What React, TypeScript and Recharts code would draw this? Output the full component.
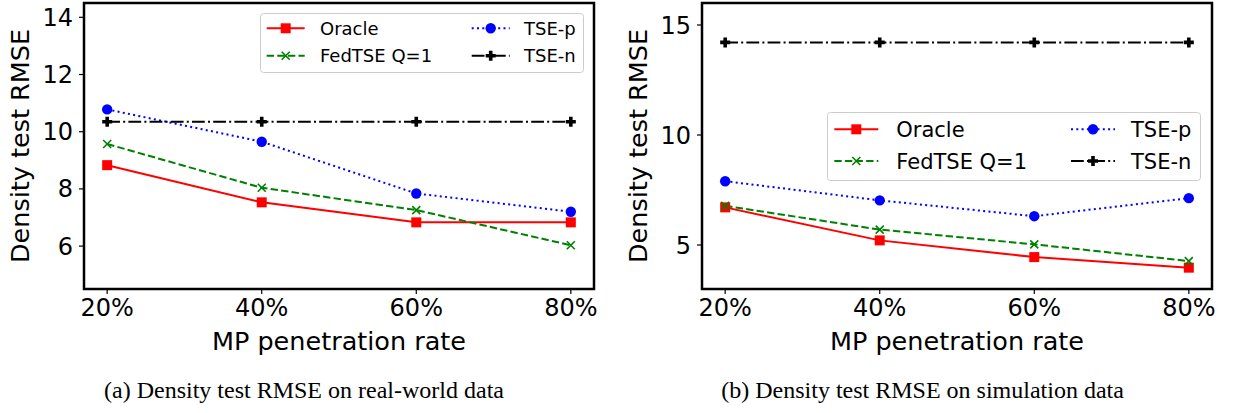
import React from 'react'
import { LineChart, Line, XAxis, YAxis, ReferenceArea, Legend } from 'recharts'

const categories = ['20%', '40%', '60%', '80%']

// (a) real-world data
const realOracle = [8.83, 7.53, 6.83, 6.83]
const realFedTSE = [9.57, 8.04, 7.26, 6.03]
const realTSEp = [10.78, 9.65, 7.84, 7.2]
const realTSEn = [10.35, 10.35, 10.35, 10.35]
const realTicks = [6, 8, 10, 12, 14]

// (b) simulation data
const simOracle = [6.71, 5.21, 4.45, 3.97]
const simFedTSE = [6.78, 5.7, 5.03, 4.27]
const simTSEp = [7.9, 7.03, 6.31, 7.13]
const simTSEn = [14.21, 14.21, 14.21, 14.21]
const simTicks = [5, 10, 15]

const FONT = '"DejaVu Sans", sans-serif'

type MarkerKind = 'square' | 'x' | 'circle' | 'plus'

const SERIES: { key: string; name: string; color: string; dash?: string; marker: MarkerKind }[] = [
  { key: 'oracle', name: 'Oracle', color: '#ff0000', marker: 'square' },
  { key: 'fed', name: 'FedTSE Q=1', color: '#008000', dash: '7.4 3.2', marker: 'x' },
  { key: 'tsep', name: 'TSE-p', color: '#0000ff', dash: '2 3.3', marker: 'circle' },
  { key: 'tsen', name: 'TSE-n', color: '#000000', dash: '12.8 3.2 2 3.2', marker: 'plus' },
]

function makeRows(oracle: number[], fed: number[], tsep: number[], tsen: number[]) {
  return categories.map((_, i) => ({ x: i, oracle: oracle[i], fed: fed[i], tsep: tsep[i], tsen: tsen[i] }))
}

function Marker({ kind, cx, cy, color }: { kind: MarkerKind; cx: number; cy: number; color: string }) {
  if (kind === 'square') return <rect x={cx - 5} y={cy - 5} width={10} height={10} fill={color} />
  if (kind === 'circle') return <circle cx={cx} cy={cy} r={5.2} fill={color} />
  if (kind === 'x')
    return (
      <path
        d={`M${cx - 4},${cy - 4}L${cx + 4},${cy + 4}M${cx - 4},${cy + 4}L${cx + 4},${cy - 4}`}
        stroke={color}
        strokeWidth={1.6}
        fill="none"
      />
    )
  const a = 5
  const t = 1.8
  return (
    <path
      d={`M${cx - t},${cy - a}H${cx + t}V${cy - t}H${cx + a}V${cy + t}H${cx + t}V${cy + a}H${cx - t}V${cy + t}H${cx - a}V${cy - t}H${cx - t}Z`}
      fill={color}
    />
  )
}

function YTitle({ viewBox }: any) {
  const x = viewBox.x + viewBox.width - 55
  const y = viewBox.y + viewBox.height / 2
  return (
    <text x={x} y={y} transform={`rotate(-90, ${x}, ${y})`} textAnchor="middle" fontSize={25.5} fontFamily={FONT} fill="#000">
      Density test RMSE
    </text>
  )
}

function XTitle({ viewBox }: any) {
  return (
    <text x={viewBox.x + viewBox.width / 2} y={viewBox.y + 61} textAnchor="middle" fontSize={25.5} fontFamily={FONT} fill="#000">
      MP penetration rate
    </text>
  )
}

interface LegendLayout {
  left: number
  top: number
  width: number
  height: number
  sampleX: number[]
  sampleW: number
  textX: number[]
  rowY: number[]
  fontSize: number
}

function LegendBox({ lay }: { lay: LegendLayout }) {
  return (
    <svg width={lay.width} height={lay.height} style={{ display: 'block' }}>
      <rect x={0.5} y={0.5} width={lay.width - 1} height={lay.height - 1} rx={3} fill="#ffffff" fillOpacity={0.8} stroke="#cccccc" strokeWidth={1} />
      {SERIES.map((s, i) => {
        const col = Math.floor(i / 2)
        const row = i % 2
        const x0 = lay.sampleX[col]
        const y = lay.rowY[row]
        return (
          <g key={s.key}>
            <line x1={x0} x2={x0 + lay.sampleW} y1={y} y2={y} stroke={s.color} strokeWidth={2} strokeDasharray={s.dash} />
            <Marker kind={s.marker} cx={x0 + lay.sampleW / 2} cy={y} color={s.color} />
            <text x={lay.textX[col]} y={y + lay.fontSize * 0.36} fontSize={lay.fontSize} fontFamily={FONT} fill="#000">
              {s.name}
            </text>
          </g>
        )
      })}
    </svg>
  )
}

interface PanelProps {
  left: number
  width: number
  yAxisWidth: number
  marginRight: number
  rows: any[]
  domain: [number, number]
  ticks: number[]
  legend: LegendLayout
}

function Panel({ left, width, yAxisWidth, marginRight, rows, domain, ticks, legend }: PanelProps) {
  return (
    <div style={{ position: 'absolute', left, top: 0, width, height: 413 }}>
      <LineChart width={width} height={413} data={rows} margin={{ top: 3, right: marginRight, bottom: 0, left: 0 }}>
        <XAxis
          type="number"
          dataKey="x"
          domain={[-0.15, 3.15]}
          allowDataOverflow
          ticks={[0, 1, 2, 3]}
          interval={0}
          tickFormatter={(v: number) => categories[v]}
          height={124}
          tickSize={5}
          tickMargin={5}
          axisLine={false}
          tickLine={{ stroke: '#000', strokeWidth: 1.2 }}
          tick={{ fill: '#000', fontSize: 24, fontFamily: FONT }}
          label={<XTitle />}
        />
        <YAxis
          type="number"
          domain={domain}
          allowDataOverflow
          ticks={ticks}
          interval={0}
          width={yAxisWidth}
          tickSize={5}
          tickMargin={6}
          axisLine={false}
          tickLine={{ stroke: '#000', strokeWidth: 1.2 }}
          tick={{ fill: '#000', fontSize: 24, fontFamily: FONT }}
          label={<YTitle />}
        />
        <ReferenceArea x1={-0.15} x2={3.15} y1={domain[0]} y2={domain[1]} fill="none" fillOpacity={0} stroke="#000" strokeWidth={2.5} ifOverflow="visible" />
        {SERIES.map((s) => (
          <Line
            key={s.key}
            type="linear"
            dataKey={s.key}
            name={s.name}
            stroke={s.color}
            strokeWidth={2}
            strokeDasharray={s.dash}
            isAnimationActive={false}
            dot={(p: any) => <Marker key={`${s.key}-${p.index}`} kind={s.marker} cx={p.cx} cy={p.cy} color={s.color} />}
            activeDot={false}
          />
        ))}
        <Legend
          layout="horizontal"
          verticalAlign="middle"
          align="center"
          content={() => <LegendBox lay={legend} />}
          wrapperStyle={{ left: legend.left, top: legend.top, width: legend.width, height: legend.height }}
        />
      </LineChart>
    </div>
  )
}

const captionStyle: React.CSSProperties = {
  position: 'absolute',
  top: 378,
  width: 500,
  textAlign: 'center',
  fontFamily: '"Liberation Serif", "Times New Roman", serif',
  fontSize: 24,
  lineHeight: '24px',
  color: '#000',
  whiteSpace: 'nowrap',
}

export default function App() {
  return (
    <div style={{ position: 'absolute', left: 0, top: 0, width: 1237, height: 413, background: '#fff' }}>
      <Panel
        left={0}
        width={610}
        yAxisWidth={84}
        marginRight={16}
        rows={makeRows(realOracle, realFedTSE, realTSEp, realTSEn)}
        domain={[4.5, 14.5]}
        ticks={realTicks}
        legend={{ left: 260, top: 13, width: 324, height: 60, sampleX: [6.7, 211.7], sampleW: 38, textX: [60, 264], rowY: [15.3, 42.7], fontSize: 18 }}
      />
      <Panel
        left={620}
        width={617}
        yAxisWidth={82}
        marginRight={25}
        rows={makeRows(simOracle, simFedTSE, simTSEp, simTSEn)}
        domain={[3, 16]}
        ticks={simTicks}
        legend={{ left: 207, top: 112, width: 374, height: 69, sampleX: [7.3, 244], sampleW: 44, textX: [69.3, 304], rowY: [17.3, 49], fontSize: 21 }}
      />
      <div style={{ ...captionStyle, left: 304 - 250 }}>(a) Density test RMSE on real-world data</div>
      <div style={{ ...captionStyle, left: 922.6 - 250 }}>(b) Density test RMSE on simulation data</div>
    </div>
  )
}
